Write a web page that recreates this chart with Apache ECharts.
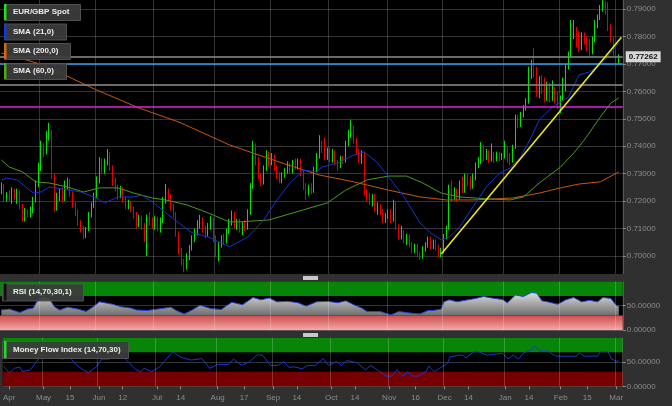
<!DOCTYPE html>
<html><head><meta charset="utf-8">
<script src="https://cdn.jsdelivr.net/npm/echarts@6/dist/echarts.min.js"></script>
<style>html,body{margin:0;padding:0;background:#303030;}#c{width:672px;height:406px;}</style>
</head><body><div id="c"></div>
<script>
// ---------- DATA ----------
const firstDate = '2015-04-10';
const categoryCount = 235;               // weekdays Apr 10 2015 .. Mar 3 2016
const xLabelDates = ['2015-04-14','2015-05-01','2015-05-15','2015-06-01','2015-06-12','2015-07-01','2015-07-14','2015-08-03','2015-08-17','2015-09-01','2015-09-14','2015-10-01','2015-10-14','2015-11-02','2015-11-16','2015-12-01','2015-12-14','2016-01-01','2016-01-14','2016-02-01','2016-02-15','2016-03-01'];
const xLabelTexts = ['Apr','May','15','Jun','12','Jul','14','Aug','17','Sep','14','Oct','14','Nov','16','Dec','14','Jan','14','Feb','15','Mar'];
const monthStarts = ['2015-05-01','2015-06-01','2015-07-01','2015-08-03','2015-09-01','2015-10-01','2015-11-02','2015-12-01','2016-01-01','2016-02-01','2016-03-01'];
const priceTicks = [0.70,0.71,0.72,0.73,0.74,0.75,0.76,0.77,0.78,0.79];
const oscTicks = [0, 50];

// [open, close, low, high]
const ohlc = [
[0.7238,0.7258,0.7225,0.7268],[0.7255,0.7205,0.7195,0.7262],[0.7205,0.7222,0.7198,0.7232],[0.7222,0.7210,0.7200,0.7240],[0.7210,0.7235,0.7190,0.7250],
[0.7235,0.7215,0.7205,0.7245],[0.7215,0.7235,0.7190,0.7245],[0.7235,0.7180,0.7170,0.7240],[0.7180,0.7140,0.7125,0.7190],[0.7140,0.7160,0.7125,0.7175],
[0.7160,0.7150,0.7140,0.7170],[0.7150,0.7165,0.7140,0.7180],[0.7165,0.7205,0.7155,0.7215],[0.7205,0.7260,0.7195,0.7275],[0.7260,0.7330,0.7250,0.7340],
[0.7330,0.7395,0.7310,0.7420],[0.7395,0.7380,0.7360,0.7410],[0.7380,0.7440,0.7370,0.7455],[0.7440,0.7450,0.7420,0.7485],[0.7450,0.7290,0.7280,0.7460],
[0.7290,0.7180,0.7160,0.7300],[0.7180,0.7215,0.7165,0.7230],[0.7215,0.7230,0.7200,0.7245],[0.7230,0.7210,0.7195,0.7250],[0.7210,0.7260,0.7200,0.7275],
[0.7260,0.7270,0.7240,0.7285],[0.7270,0.7225,0.7215,0.7280],[0.7225,0.7185,0.7175,0.7235],[0.7185,0.7160,0.7145,0.7195],[0.7160,0.7120,0.7110,0.7170],
[0.7120,0.7100,0.7085,0.7130],[0.7100,0.7075,0.7060,0.7110],[0.7075,0.7095,0.7065,0.7105],[0.7095,0.7150,0.7090,0.7160],[0.7150,0.7185,0.7140,0.7195],
[0.7185,0.7220,0.7175,0.7230],[0.7220,0.7275,0.7210,0.7290],[0.7275,0.7345,0.7265,0.7360],[0.7345,0.7310,0.7300,0.7355],[0.7310,0.7340,0.7300,0.7355],
[0.7340,0.7370,0.7330,0.7390],[0.7370,0.7320,0.7310,0.7378],[0.7320,0.7270,0.7255,0.7330],[0.7270,0.7250,0.7235,0.7285],[0.7250,0.7220,0.7205,0.7260],
[0.7220,0.7240,0.7210,0.7255],[0.7240,0.7205,0.7195,0.7250],[0.7205,0.7180,0.7170,0.7215],[0.7180,0.7195,0.7170,0.7205],[0.7195,0.7170,0.7160,0.7200],
[0.7170,0.7150,0.7135,0.7180],[0.7150,0.7115,0.7100,0.7160],[0.7115,0.7140,0.7105,0.7150],[0.7140,0.7105,0.7095,0.7148],[0.7105,0.7060,0.7050,0.7120],
[0.7060,0.7140,0.7000,0.7150],[0.7140,0.7125,0.7110,0.7160],[0.7125,0.7110,0.7100,0.7140],[0.7110,0.7135,0.7095,0.7145],[0.7135,0.7100,0.7090,0.7142],
[0.7100,0.7130,0.7085,0.7140],[0.7130,0.7200,0.7120,0.7215],[0.7200,0.7225,0.7190,0.7262],[0.7225,0.7215,0.7200,0.7245],[0.7215,0.7180,0.7165,0.7225],
[0.7180,0.7150,0.7140,0.7190],[0.7150,0.7080,0.7070,0.7160],[0.7080,0.7020,0.7005,0.7090],[0.7020,0.6975,0.6965,0.7030],[0.6975,0.6960,0.6940,0.6990],
[0.6960,0.7000,0.6950,0.7010],[0.7000,0.7030,0.6985,0.7040],[0.7030,0.7065,0.7020,0.7075],[0.7065,0.7090,0.7050,0.7100],[0.7090,0.7115,0.7075,0.7130],
[0.7115,0.7130,0.7100,0.7150],[0.7130,0.7100,0.7085,0.7140],[0.7100,0.7080,0.7065,0.7110],[0.7080,0.7110,0.7070,0.7120],[0.7110,0.7135,0.7095,0.7145],
[0.7135,0.7060,0.7050,0.7140],[0.7060,0.7010,0.6995,0.7075],[0.7010,0.7040,0.6980,0.7050],[0.7040,0.7065,0.7030,0.7075],[0.7065,0.7055,0.7040,0.7080],
[0.7055,0.7090,0.7045,0.7100],[0.7090,0.7125,0.7080,0.7135],[0.7125,0.7150,0.7110,0.7165],[0.7150,0.7110,0.7100,0.7160],[0.7110,0.7125,0.7095,0.7135],
[0.7125,0.7095,0.7085,0.7135],[0.7095,0.7115,0.7075,0.7125],[0.7115,0.7100,0.7090,0.7130],[0.7100,0.7160,0.7095,0.7170],[0.7160,0.7255,0.7150,0.7265],
[0.7255,0.7400,0.7245,0.7420],[0.7400,0.7350,0.7330,0.7410],[0.7350,0.7290,0.7280,0.7360],[0.7290,0.7270,0.7255,0.7300],[0.7270,0.7320,0.7260,0.7330],
[0.7320,0.7370,0.7310,0.7385],[0.7370,0.7340,0.7325,0.7380],[0.7340,0.7360,0.7330,0.7375],[0.7360,0.7320,0.7310,0.7370],[0.7320,0.7290,0.7280,0.7330],
[0.7290,0.7275,0.7265,0.7305],[0.7275,0.7295,0.7265,0.7305],[0.7295,0.7310,0.7285,0.7320],[0.7310,0.7330,0.7300,0.7345],[0.7330,0.7310,0.7300,0.7340],
[0.7310,0.7340,0.7300,0.7350],[0.7340,0.7325,0.7315,0.7355],[0.7325,0.7345,0.7315,0.7355],[0.7345,0.7300,0.7290,0.7355],[0.7300,0.7255,0.7240,0.7310],
[0.7255,0.7230,0.7205,0.7265],[0.7230,0.7250,0.7220,0.7260],[0.7250,0.7235,0.7225,0.7265],[0.7235,0.7315,0.7230,0.7325],[0.7315,0.7365,0.7305,0.7375],
[0.7365,0.7410,0.7355,0.7440],[0.7410,0.7385,0.7375,0.7420],[0.7385,0.7360,0.7350,0.7430],[0.7360,0.7380,0.7350,0.7395],[0.7380,0.7350,0.7340,0.7395],
[0.7350,0.7375,0.7340,0.7390],[0.7375,0.7340,0.7330,0.7385],[0.7340,0.7330,0.7310,0.7350],[0.7330,0.7355,0.7320,0.7365],[0.7355,0.7345,0.7335,0.7365],
[0.7345,0.7410,0.7340,0.7420],[0.7410,0.7445,0.7400,0.7460],[0.7445,0.7465,0.7430,0.7496],[0.7465,0.7420,0.7410,0.7475],[0.7420,0.7380,0.7370,0.7430],
[0.7380,0.7350,0.7340,0.7390],[0.7350,0.7370,0.7335,0.7385],[0.7370,0.7230,0.7220,0.7380],[0.7230,0.7215,0.7200,0.7245],[0.7215,0.7195,0.7185,0.7230],
[0.7195,0.7215,0.7180,0.7225],[0.7215,0.7170,0.7160,0.7225],[0.7170,0.7180,0.7150,0.7195],[0.7180,0.7160,0.7150,0.7190],[0.7160,0.7130,0.7120,0.7170],
[0.7130,0.7145,0.7120,0.7155],[0.7145,0.7160,0.7135,0.7170],[0.7160,0.7130,0.7120,0.7170],[0.7130,0.7195,0.7125,0.7205],[0.7195,0.7105,0.7095,0.7200],
[0.7105,0.7070,0.7060,0.7115],[0.7070,0.7085,0.7060,0.7110],[0.7085,0.7055,0.7045,0.7095],[0.7055,0.7070,0.7040,0.7080],[0.7070,0.7040,0.7030,0.7080],
[0.7040,0.7020,0.7010,0.7050],[0.7020,0.7035,0.7010,0.7045],[0.7035,0.7005,0.6995,0.7045],[0.7005,0.6995,0.6985,0.7015],[0.6995,0.7025,0.6990,0.7035],
[0.7025,0.7040,0.7015,0.7050],[0.7040,0.7060,0.7030,0.7070],[0.7060,0.7035,0.7025,0.7070],[0.7035,0.7050,0.7025,0.7060],[0.7050,0.7030,0.7020,0.7060],
[0.7030,0.7005,0.6995,0.7040],[0.7005,0.7020,0.6995,0.7030],[0.7020,0.7070,0.7010,0.7080],[0.7070,0.7100,0.7060,0.7110],[0.7100,0.7250,0.7095,0.7260],
[0.7250,0.7215,0.7200,0.7275],[0.7215,0.7235,0.7205,0.7250],[0.7235,0.7215,0.7200,0.7245],[0.7215,0.7265,0.7205,0.7275],[0.7265,0.7240,0.7230,0.7290],
[0.7240,0.7285,0.7230,0.7300],[0.7285,0.7270,0.7255,0.7300],[0.7270,0.7250,0.7240,0.7290],[0.7250,0.7285,0.7245,0.7300],[0.7285,0.7330,0.7275,0.7340],
[0.7330,0.7345,0.7320,0.7360],[0.7345,0.7395,0.7335,0.7415],[0.7395,0.7360,0.7345,0.7405],[0.7360,0.7375,0.7350,0.7390],[0.7375,0.7355,0.7340,0.7385],
[0.7355,0.7370,0.7345,0.7410],[0.7370,0.7350,0.7340,0.7380],[0.7350,0.7370,0.7345,0.7380],[0.7370,0.7355,0.7345,0.7380],[0.7355,0.7365,0.7350,0.7375],
[0.7365,0.7380,0.7355,0.7420],[0.7380,0.7360,0.7340,0.7400],[0.7360,0.7345,0.7330,0.7375],[0.7345,0.7395,0.7340,0.7405],[0.7395,0.7505,0.7390,0.7515],
[0.7505,0.7480,0.7465,0.7515],[0.7480,0.7515,0.7470,0.7525],[0.7515,0.7540,0.7505,0.7550],[0.7540,0.7565,0.7530,0.7575],[0.7565,0.7655,0.7555,0.7690],
[0.7655,0.7690,0.7645,0.7715],[0.7690,0.7665,0.7650,0.7758],[0.7665,0.7590,0.7580,0.7690],[0.7590,0.7640,0.7575,0.7655],[0.7640,0.7610,0.7590,0.7660],
[0.7610,0.7575,0.7560,0.7650],[0.7575,0.7620,0.7565,0.7635],[0.7620,0.7580,0.7560,0.7630],[0.7580,0.7600,0.7565,0.7640],[0.7600,0.7570,0.7555,0.7615],
[0.7570,0.7545,0.7535,0.7600],[0.7545,0.7575,0.7520,0.7585],[0.7575,0.7640,0.7565,0.7650],[0.7640,0.7690,0.7600,0.7700],[0.7690,0.7735,0.7680,0.7745],
[0.7735,0.7800,0.7725,0.7860],[0.7800,0.7825,0.7790,0.7860],[0.7825,0.7790,0.7760,0.7835],[0.7790,0.7760,0.7745,0.7820],[0.7760,0.7800,0.7750,0.7815],
[0.7800,0.7780,0.7770,0.7815],[0.7780,0.7760,0.7745,0.7800],[0.7760,0.7740,0.7730,0.7790],[0.7740,0.7790,0.7735,0.7800],[0.7790,0.7840,0.7780,0.7860],
[0.7840,0.7870,0.7830,0.7880],[0.7870,0.7900,0.7860,0.7915],[0.7900,0.7920,0.7890,0.7933],[0.7920,0.7905,0.7880,0.7930],[0.7905,0.7830,0.7820,0.7925],
[0.7830,0.7790,0.7780,0.7845],[0.7790,0.7740,0.7730,0.7800],[0.7740,0.7705,0.7689,0.7750],[0.7705,0.7726,0.7700,0.7735]
];

// moving averages: [candle index, value]
const sma21 = [[0,0.7277],[2,0.7284],[6,0.7277],[12,0.7229],[15,0.7233],[18,0.7251],[23,0.7244],[30,0.7233],[36,0.7211],[39,0.7193],[44,0.7215],[50,0.7215],[53,0.7222],[57,0.7197],[62,0.7157],[67,0.7120],[72,0.7084],[78,0.7069],[83,0.7047],[86,0.7033],[93,0.7069],[99,0.7131],[104,0.7204],[109,0.7266],[114,0.7313],[119,0.7306],[121,0.7324],[127,0.7339],[133,0.7368],[137,0.7379],[142,0.7339],[147,0.7277],[152,0.7215],[158,0.7120],[162,0.7084],[166,0.7058],[169,0.7069],[173,0.7106],[178,0.7179],[183,0.7251],[188,0.7302],[192,0.7320],[196,0.7361],[200,0.7434],[203,0.7496],[208,0.7543],[214,0.7579],[218,0.7660],[222,0.7671],[226,0.7696],[230,0.7740],[233,0.7776]];
const sma60 = [[0,0.7350],[3,0.7324],[8,0.7306],[13,0.7270],[18,0.7266],[25,0.7251],[31,0.7233],[37,0.7248],[44,0.7248],[50,0.7229],[57,0.7211],[62,0.7204],[70,0.7186],[78,0.7157],[86,0.7124],[90,0.7124],[101,0.7131],[114,0.7168],[123,0.7193],[130,0.7240],[138,0.7277],[146,0.7291],[153,0.7291],[159,0.7266],[166,0.7229],[173,0.7215],[183,0.7208],[192,0.7204],[197,0.7215],[203,0.7266],[211,0.7324],[216,0.7375],[220,0.7423],[226,0.7506],[230,0.7557],[233,0.7576]];
const sma200 = [[0,0.7740],[16,0.7696],[35,0.7609],[45,0.7568],[52,0.7539],[67,0.7488],[86,0.7405],[95,0.7375],[108,0.7332],[120,0.7295],[133,0.7270],[146,0.7240],[158,0.7215],[168,0.7204],[178,0.7204],[193,0.7211],[203,0.7229],[211,0.7248],[218,0.7262],[226,0.7270],[233,0.7306]];
const trendLine = [[166,0.7007],[234,0.7797]];
const lastPrice = 0.77262;
const levelValues = [0.7702, 0.7623, 0.7543];

const rsi = [[0,41],[3,43],[7,36],[10,43],[12,45],[14,64],[16,68],[18,66],[20,48],[22,41],[25,47],[29,43],[32,38],[35,49],[37,58],[40,55],[42,53],[45,48],[49,45],[51,41],[55,40],[59,43],[64,47],[66,40],[69,33],[72,41],[75,51],[79,44],[83,42],[85,50],[87,57],[91,52],[95,67],[98,62],[101,66],[104,58],[108,59],[112,56],[115,49],[119,58],[123,59],[127,56],[130,60],[133,52],[136,45],[138,38],[143,38],[147,31],[150,38],[154,35],[158,33],[161,40],[163,40],[166,43],[167,58],[169,62],[172,58],[176,62],[179,65],[182,69],[186,65],[189,63],[191,56],[194,72],[197,69],[200,77],[202,76],[204,60],[206,58],[210,53],[213,62],[216,67],[219,58],[222,61],[225,58],[227,67],[230,65],[232,51],[233,49]];
const mfi = [[0,40],[2,28],[4,37],[6,40],[7,30],[10,34],[12,48],[15,71],[17,75],[20,60],[22,56],[25,60],[27,46],[30,34],[32,28],[35,40],[37,56],[40,56],[42,66],[45,62],[47,51],[50,34],[52,30],[53,37],[56,30],[59,40],[61,53],[64,71],[67,60],[71,54],[75,57],[78,37],[81,45],[85,45],[87,56],[90,43],[93,50],[96,65],[98,64],[101,43],[104,43],[106,51],[108,39],[110,40],[113,36],[115,43],[118,43],[121,57],[123,43],[126,51],[128,43],[130,53],[134,48],[137,34],[139,43],[142,32],[145,21],[147,21],[149,34],[151,21],[153,29],[155,21],[157,21],[160,30],[161,42],[163,30],[166,40],[168,47],[169,60],[172,64],[174,64],[175,58],[178,71],[180,71],[183,64],[186,66],[189,68],[191,56],[193,64],[195,56],[197,69],[200,75],[201,83],[203,73],[206,73],[209,62],[213,62],[217,62],[218,69],[220,62],[225,62],[226,71],[229,71],[230,58],[232,51],[233,53]];

const legendLabels = ['EUR/GBP Spot','SMA (21,0)','SMA (200,0)','SMA (60,0)'];
const rsiLabel = 'RSI (14,70,30,1)';
const mfiLabel = 'Money Flow Index (14,70,30)';

// ---------- BUILD ----------
const dates = [];
(function () {
  const p = firstDate.split('-').map(Number);
  const d = new Date(Date.UTC(p[0], p[1] - 1, p[2]));
  while (dates.length < categoryCount) {
    const wd = d.getUTCDay();
    if (wd !== 0 && wd !== 6) dates.push(d.toISOString().slice(0, 10));
    d.setUTCDate(d.getUTCDate() + 1);
  }
})();
const labelMap = {};
xLabelDates.forEach((d, i) => labelMap[d] = xLabelTexts[i]);

const FONT = '"Liberation Sans", Arial, sans-serif';
const GRIDLINE = 'rgba(255,255,255,0.2)';
const AXISTXT = '#8c8c8c';
const W = 622.75;

function xAxisFor(gi, showLabels, z) {
  return {
    type: 'category', gridIndex: gi, data: dates, boundaryGap: true, z: z,
    axisLine: { show: false },
    axisTick: { show: showLabels, alignWithLabel: true, length: 3, interval: (i, v) => !!labelMap[v], lineStyle: { color: '#8c8c8c' } },
    axisLabel: { show: showLabels, interval: (i, v) => !!labelMap[v], formatter: v => labelMap[v] || '', color: AXISTXT, fontSize: 8, fontFamily: FONT, margin: 7 },
    splitLine: { show: true, interval: (i, v) => monthStarts.indexOf(v) >= 0, lineStyle: { color: GRIDLINE, width: 1 } }
  };
}
function oscY(gi) {
  return {
    type: 'value', gridIndex: gi, position: 'right', min: 0, max: 100, interval: 50,
    axisLine: { show: false },
    axisTick: { show: true, customValues: oscTicks, length: 3, lineStyle: { color: '#8c8c8c' } },
    axisLabel: { customValues: oscTicks, formatter: v => v.toFixed(5), color: AXISTXT, fontSize: 8, fontFamily: FONT, margin: 4 },
    splitLine: { show: true, lineStyle: { color: GRIDLINE } }
  };
}

const greenBand = { color: '#078507' };
const pinkBand = { color: { type: 'linear', x: 0, y: 0, x2: 0, y2: 1, colorStops: [{ offset: 0, color: '#cf4c4c' }, { offset: 1, color: '#f5a8a8' }] } };
const darkRedBand = { color: '#760000' };

const legendGraphics = [];
const legendBars = ['#22dd22', '#1a3ad8', '#d8650f', '#4caa1c'];
const legendWidths = [76, 62, 66, 62];
const legendTops = [4, 23.5, 43, 63];
legendLabels.forEach((t, i) => {
  legendGraphics.push({ type: 'rect', left: 4, top: legendTops[i], shape: { width: legendWidths[i], height: 16 }, style: { fill: 'rgba(60,60,60,0.93)', stroke: 'rgba(85,85,85,0.9)', lineWidth: 1 }, z: 100 });
  legendGraphics.push({ type: 'rect', left: 4, top: legendTops[i], shape: { width: 2.5, height: 16 }, style: { fill: legendBars[i] }, z: 101 });
  legendGraphics.push({ type: 'text', left: 13, top: legendTops[i] + 4, style: { text: t, fill: '#ececec', font: 'bold 8px ' + FONT }, z: 102 });
});
legendGraphics.push({ type: 'rect', left: 2, top: 283.5, shape: { width: 81, height: 17 }, style: { fill: 'rgba(60,60,60,0.93)', stroke: 'rgba(85,85,85,0.9)' }, z: 100 });
legendGraphics.push({ type: 'rect', left: 4, top: 283.5, shape: { width: 2.5, height: 17 }, style: { fill: '#111' }, z: 101 });
legendGraphics.push({ type: 'text', left: 13, top: 288, style: { text: rsiLabel, fill: '#ececec', font: 'bold 8px ' + FONT }, z: 102 });
legendGraphics.push({ type: 'rect', left: 2, top: 341, shape: { width: 126, height: 17 }, style: { fill: 'rgba(60,60,60,0.93)', stroke: 'rgba(85,85,85,0.9)' }, z: 100 });
legendGraphics.push({ type: 'rect', left: 4, top: 341, shape: { width: 2.5, height: 17 }, style: { fill: '#22dd22' }, z: 101 });
legendGraphics.push({ type: 'text', left: 13, top: 345.5, style: { text: mfiLabel, fill: '#ececec', font: 'bold 8px ' + FONT }, z: 102 });
// scroll handles between panes
legendGraphics.push({ type: 'rect', left: 303, top: 276, shape: { width: 15, height: 4 }, style: { fill: '#c8c8c8' }, z: 100 });
legendGraphics.push({ type: 'rect', left: 303, top: 333, shape: { width: 15, height: 4 }, style: { fill: '#c8c8c8' }, z: 100 });

const levelStyles = [{ color: '#2f9ff0', width: 1.5 }, { color: '#8e8e8e', width: 1.5 }, { color: '#e020e0', width: 1.5 }];

const option = {
  animation: false,
  backgroundColor: '#303030',
  grid: [
    { left: 0, top: 0, width: W, height: 274, show: true, backgroundColor: '#000', borderWidth: 0 },
    { left: 0, top: 281.4, width: W, height: 48.6, show: true, backgroundColor: '#000', borderWidth: 0 },
    { left: 0, top: 337.7, width: W, height: 48.6, show: true, backgroundColor: '#000', borderWidth: 0 }
  ],
  xAxis: [xAxisFor(0, false, 0), xAxisFor(1, false, 5), xAxisFor(2, true, 5)],
  yAxis: [
    {
      type: 'value', gridIndex: 0, position: 'right', min: 0.6934, max: 0.7933,
      axisLine: { show: false },
      axisTick: { show: true, customValues: priceTicks, length: 3, lineStyle: { color: '#8c8c8c' } },
      axisLabel: { customValues: priceTicks, formatter: v => v.toFixed(5), color: AXISTXT, fontSize: 8, fontFamily: FONT, margin: 4 },
      splitLine: { show: true, lineStyle: { color: GRIDLINE } }
    },
    oscY(1), oscY(2)
  ],
  graphic: legendGraphics,
  series: [
    {
      type: 'candlestick', xAxisIndex: 0, yAxisIndex: 0, data: ohlc, barWidth: 1,
      itemStyle: { color: '#00e400', color0: '#e60000', borderColor: '#00e400', borderColor0: '#e60000', borderWidth: 1 },
      markLine: {
        silent: true, symbol: 'none', precision: 5,
        data: levelValues.map((v, i) => ({ yAxis: v, lineStyle: Object.assign({ type: 'solid' }, levelStyles[i]), label: { show: false } }))
          .concat([{ yAxis: lastPrice, lineStyle: { type: 'solid', color: '#8e8e8e', width: 1.5 },
            label: { show: true, position: 'end', distance: 3, formatter: lastPrice.toFixed(5), backgroundColor: '#d6d6d6', color: '#111', fontWeight: 'bold', fontSize: 8, fontFamily: FONT, padding: [2, 3, 1, 3] } }])
      },
      z: 3
    },
    { type: 'line', xAxisIndex: 0, yAxisIndex: 0, data: sma200, symbol: 'none', lineStyle: { color: '#c8570e', width: 1 }, z: 4 },
    { type: 'line', xAxisIndex: 0, yAxisIndex: 0, data: sma60, symbol: 'none', lineStyle: { color: '#4b9a18', width: 1 }, z: 4 },
    { type: 'line', xAxisIndex: 0, yAxisIndex: 0, data: sma21, symbol: 'none', lineStyle: { color: '#1634d0', width: 1 }, z: 4 },
    { type: 'line', xAxisIndex: 0, yAxisIndex: 0, data: trendLine, symbol: 'none', lineStyle: { color: '#f2ee10', width: 1.5 }, z: 5 },
    {
      type: 'line', xAxisIndex: 1, yAxisIndex: 1, data: rsi, symbol: 'none', z: 3,
      lineStyle: { color: '#2244e0', width: 1 },
      areaStyle: { origin: 30, opacity: 1, color: { type: 'linear', x: 0, y: 0, x2: 0, y2: 1, colorStops: [{ offset: 0, color: '#dcdcdc' }, { offset: 1, color: '#6e6e6e' }] } },
      markArea: { silent: true, data: [[{ yAxis: 70, itemStyle: greenBand }, { yAxis: 100 }], [{ yAxis: 0, itemStyle: pinkBand }, { yAxis: 30 }]] }
    },
    {
      type: 'line', xAxisIndex: 2, yAxisIndex: 2, data: mfi, symbol: 'none', z: 3,
      lineStyle: { color: '#1a38cc', width: 1 },
      markArea: { silent: true, data: [[{ yAxis: 70, itemStyle: greenBand }, { yAxis: 100 }], [{ yAxis: 0, itemStyle: darkRedBand }, { yAxis: 30 }]] }
    }
  ]
};
const chart = echarts.init(document.getElementById('c'), null, { renderer: 'canvas' });
chart.setOption(option);
</script>
</body></html>
